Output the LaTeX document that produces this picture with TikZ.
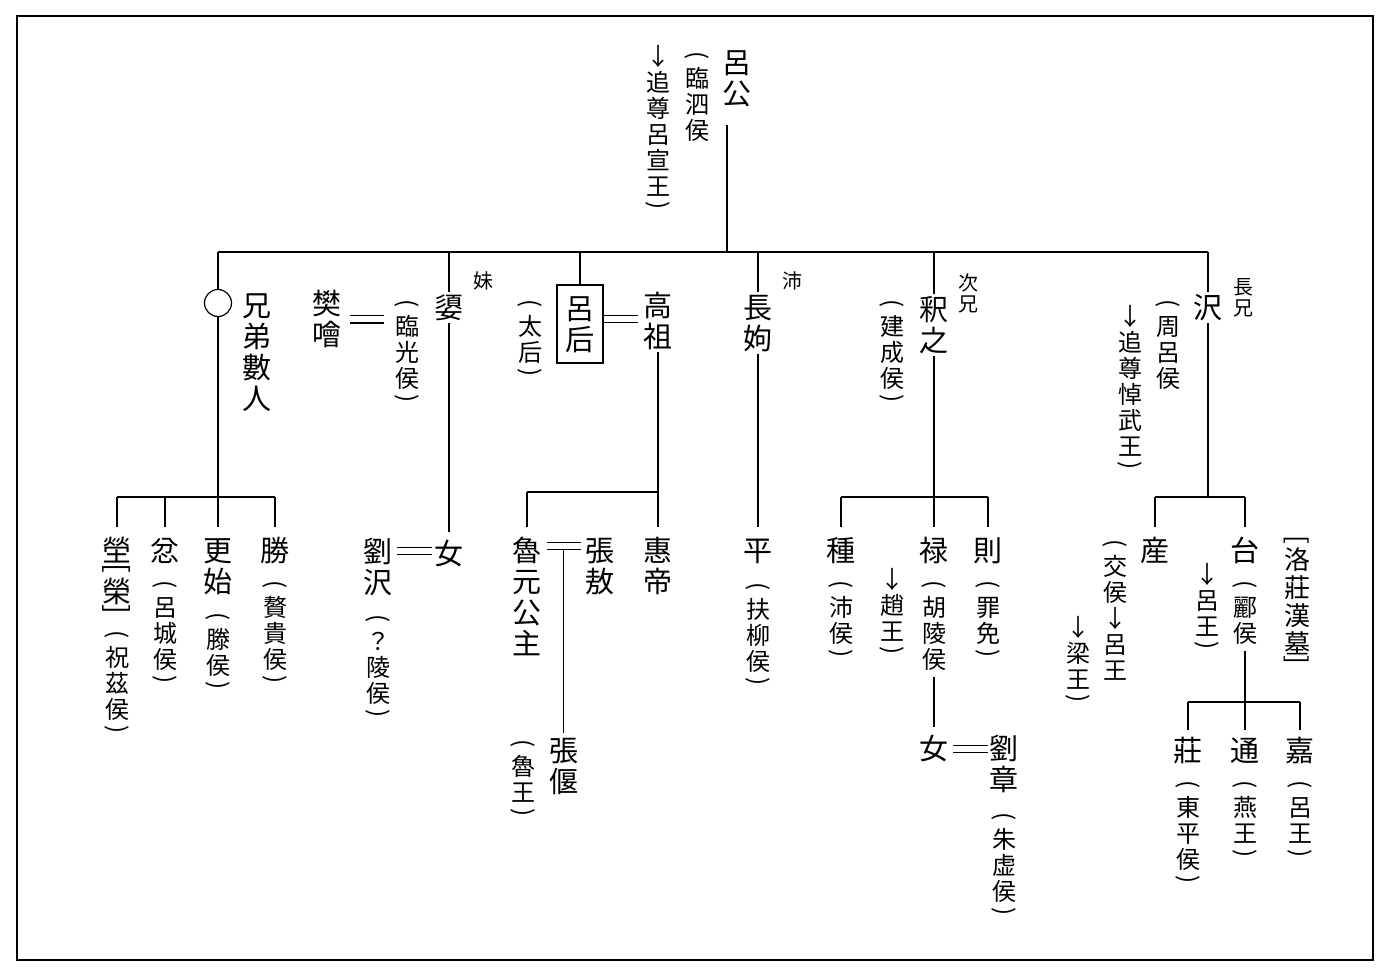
\documentclass[tikz,border=0pt]{standalone}
\usepackage{fontspec}
\usepackage{graphicx}
\usetikzlibrary{calc}
\newfontfamily\cjk{Noto Sans CJK JP}
\newdimen\vtpitch
\makeatletter
% one upright character per row, stacked top to bottom;
% brackets and parentheses are turned a quarter and take a short row
\def\vt#1{\vbox{\offinterlineskip\vt@go#1\vt@end}}
\def\vt@end{\vt@end}
\def\vt@go#1{\ifx#1\vt@end\else\vt@pick#1\expandafter\vt@go\fi}
\def\vt@pick#1{%
  \ifx#1(\vt@short{.64}{#1}\else
  \ifx#1)\vt@short{.64}{#1}\else
  \ifx#1[\vt@short{.3}{#1}\else
  \ifx#1]\vt@short{.3}{#1}\else
  \vt@row{#1}\fi\fi\fi\fi}
\def\vt@row#1{\hbox to\vtpitch{\hss
  \vrule width0pt height\dimexpr.5\vtpitch+.38em\relax depth\dimexpr.5\vtpitch-.38em\relax
  \smash{#1}\hss}}
\def\vt@short#1#2{\vbox to#1\vtpitch{\vss\hbox to\vtpitch{\hss\rotatebox[origin=c]{-90}{#2}\hss}\vss}}
\makeatother
\tikzset{
  vbase/.style={inner sep=0pt, anchor=north, text=black},
  main/.style={vbase, font={\cjk\fontsize{29}{29}\selectfont\vtpitch=31pt\relax}},
  small/.style={vbase, font={\cjk\fontsize{24}{24}\selectfont\vtpitch=26pt\relax}},
  tag/.style={vbase, font={\cjk\fontsize{20}{20}\selectfont\vtpitch=21pt\relax}},
  tomb/.style={vbase, font={\cjk\fontsize{26}{26}\selectfont\vtpitch=28pt\relax}},
  over/.style={fill=white},
  ln/.style={line width=1.3pt},
  bar/.style={line width=1.7pt},
  drop/.style={ln, shorten >=8pt},
  marry/.style={double, double distance=6.4pt, line width=1.2pt},
}
\begin{document}
\begin{tikzpicture}[x=1pt,y=-1pt]
\useasboundingbox (0,0) rectangle (1390,976);
\draw[line width=1.5pt] (17,16) rectangle (1373,960);

% founder
\node[main] (lg) at (737,47) {\vt{呂公}};
\node[small] (lgT1) at (697,49) {\vt{(臨泗侯}};
\node[small] (lgT2) at (658,43) {\vt{↓追尊呂宣王)}};
\coordinate (top) at (727,252);
\coordinate (bl) at (218,252);
\coordinate (br) at (1208,252);
\draw[ln, shorten <=16pt] (lg.south -| top) -- (top);
\draw[bar] (bl) -- (br);

% unnamed brothers
\node[draw, circle, minimum size=27pt, inner sep=0pt, line width=1.2pt] (ring) at (218,303) {};
\node[main] (xd) at (257,290) {\vt{兄弟數人}};
\draw[ln] (bl) -- (ring.north);
\node[main] (c1) at (117,535) {\vt{塋[榮]}};
\node[small] (c1t) at (117,628) {\vt{(祝茲侯)}};
\node[main] (c2) at (165,535) {\vt{忿}};
\node[small] (c2t) at (165,578) {\vt{(呂城侯)}};
\node[main] (c3) at (218,535) {\vt{更始}};
\node[small] (c3t) at (218,610) {\vt{(滕侯)}};
\node[main] (c4) at (275,535) {\vt{勝}};
\node[small] (c4t) at (275,578) {\vt{(贅貴侯)}};
\coordinate (ja) at (218,497);
\draw[ln] (ring.south) -- (ja);
\draw[bar] (c1.north |- ja) -- (c4.north |- ja);
\foreach \c in {c1,c2,c3,c4} \draw[drop] (\c.north |- ja) -- (\c.north);

% younger sister
\node[tag] (mei) at (483,270) {\vt{妹}};
\node[main] (fk) at (327,288) {\vt{樊噲}};
\node[small] (fkt) at (407,297) {\vt{(臨光侯)}};
\node[main] (nv) at (449,538) {\vt{女}};
\draw[ln, shorten >=6pt] (nv.north |- bl) -- (nv.north);
\node[main, over] (xu) at (449,292) {\vt{嬃}};
\draw[marry] ($(fk.east)+(7.5,0)$) -- ($(fkt.west |- fk.east)+(-9.5,0)$);
\node[main] (lz) at (378,536) {\vt{劉沢}};
\node[small] (lzt) at (378,612) {\vt{(？陵侯)}};
\draw[marry] ($(lz.north east)+(3.5,15)$) -- ($(nv.north west)+(-1.5,13)$);

% empress
\node[main, draw, line width=1.2pt, inner xsep=7.5pt, inner ysep=8pt, anchor=center] (lh) at (580,324) {\vt{呂后}};
\draw[ln] (lh.north |- bl) -- (lh.north);
\node[small] (lht) at (530,297) {\vt{(太后)}};
\node[main] (gz) at (658,290) {\vt{高祖}};
\draw[marry] ($(lh.east)+(0,-5)$) -- ($(gz.west |- lh.east)+(-4.5,-5)$);
\node[main] (hd) at (658,535) {\vt{惠帝}};
\node[main] (ly) at (527,535) {\vt{魯元公主}};
\node[main] (za) at (600,535) {\vt{張敖}};
\coordinate (jc) at (658,492);
\draw[ln] (gz.south) -- (jc);
\draw[bar] (ly.north |- jc) -- (jc);
\draw[drop] (ly.north |- jc) -- (ly.north);
\draw[drop] (jc) -- (hd.north);
\draw[marry] ($(ly.north east)+(4.5,11)$) -- ($(za.north west)+(-3.5,11)$);
\coordinate (m4) at ($(ly.north east)!0.5!(za.north west)+(0,11)$);
\node[main] (zy) at (m4 |- 0,735) {\vt{張偃}};
\draw[ln, shorten <=4pt, shorten >=2pt] (m4) -- (zy.north);
\node[small] (zyt) at (523,737) {\vt{(魯王)}};

% elder sister
\node[tag] (pei) at (792,270) {\vt{沛}};
\node[main] (ping) at (758,535) {\vt{平}};
\draw[drop] (ping.north |- bl) -- (ping.north);
\node[main, over] (cx) at (758,292) {\vt{長姁}};
\node[small] (pingt) at (758,580) {\vt{(扶柳侯)}};

% second brother
\node[tag] (cxg) at (968,272) {\vt{次兄}};
\coordinate (je) at (934,497);
\draw[ln] (je |- bl) -- (je);
\node[main, over] (sz) at (934,294) {\vt{釈之}};
\node[small] (szt) at (892,297) {\vt{(建成侯)}};
\node[main] (zh) at (841,535) {\vt{種}};
\node[small] (zht) at (841,578) {\vt{(沛侯)}};
\node[main] (lu) at (934,535) {\vt{禄}};
\node[small] (lut) at (934,578) {\vt{(胡陵侯}};
\node[small] (lut2) at (892,566) {\vt{↓趙王)}};
\node[main] (ze) at (988,535) {\vt{則}};
\node[small] (zet) at (988,578) {\vt{(罪免)}};
\draw[bar] (zh.north |- je) -- (ze.north |- je);
\foreach \c in {zh,lu,ze} \draw[drop] (\c.north |- je) -- (\c.north);
\node[main] (nv2) at (934,733) {\vt{女}};
\draw[ln, shorten <=4pt, shorten >=6pt] (lut.south) -- (nv2.north);
\node[main] (lzh) at (1004,733) {\vt{劉章}};
\node[small] (lzht) at (1004,810) {\vt{(朱虚侯)}};
\draw[marry] ($(nv2.north east)+(3.5,16)$) -- ($(lzh.north west)+(0,16)$);

% eldest brother
\node[tag] (zxg) at (1243,276) {\vt{長兄}};
\coordinate (jf) at (1208,497);
\draw[ln] (jf |- bl) -- (jf);
\node[main, over] (zz) at (1208,292) {\vt{沢}};
\node[small] (zzt1) at (1168,297) {\vt{(周呂侯}};
\node[small] (zzt2) at (1130,303) {\vt{↓追尊悼武王)}};
\node[main] (chan) at (1155,535) {\vt{産}};
\node[main] (tai) at (1245,535) {\vt{台}};
\draw[bar] (chan.north |- jf) -- (tai.north |- jf);
\foreach \c in {chan,tai} \draw[drop] (\c.north |- jf) -- (\c.north);
\node[small] (chant1) at (1115,537) {\vt{(交侯↓呂王}};
\node[small] (chant2) at (1078,614) {\vt{↓梁王)}};
\node[small] (tait2) at (1207,561) {\vt{↓呂王)}};
\node[small] (tait1) at (1245,578) {\vt{(酈侯}};
\node[tomb] (tomb) at (1297,537) {\vt{[洛莊漢墓]}};
\coordinate (jg) at (1245,702);
\draw[ln, shorten <=4pt] (tait1.south) -- (jg);
\node[main] (zhuang) at (1188,735) {\vt{莊}};
\node[main] (tong) at (1245,735) {\vt{通}};
\node[main] (jia) at (1300,735) {\vt{嘉}};
\draw[bar] (zhuang.north |- jg) -- (jia.north |- jg);
\foreach \c in {zhuang,tong,jia} \draw[ln, shorten >=5pt] (\c.north |- jg) -- (\c.north);
\node[small] (zhuangt) at (1188,778) {\vt{(東平侯)}};
\node[small] (tongt) at (1245,778) {\vt{(燕王)}};
\node[small] (jiat) at (1300,778) {\vt{(呂王)}};
\end{tikzpicture}
\end{document}
